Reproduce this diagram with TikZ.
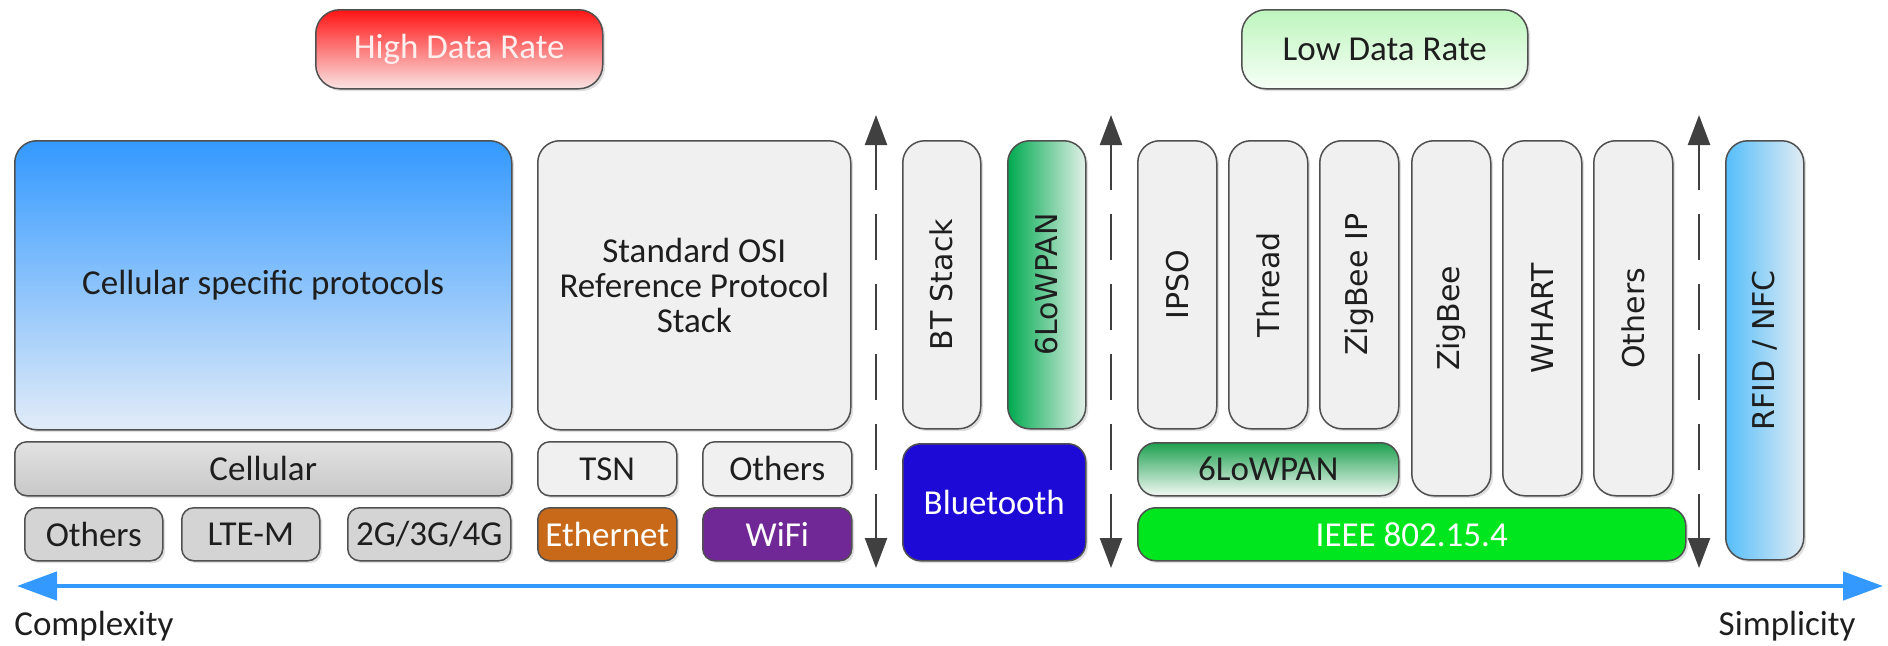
\documentclass[tikz,border=0pt]{standalone}
\usepackage{fontspec}
\setmainfont{Carlito}
\newfontfamily\vfont{DejaVu Sans}
\usetikzlibrary{arrows.meta,shadows}

\definecolor{boxline}{RGB}{80,80,80}
\definecolor{txt}{RGB}{30,30,30}
\definecolor{lgray}{RGB}{240,240,240}
\definecolor{mgray}{RGB}{212,212,212}
\definecolor{hdrtop}{RGB}{255,20,20}
\definecolor{hdrbot}{RGB}{250,228,228}
\definecolor{ldrtop}{RGB}{190,245,190}
\definecolor{ldrbot}{RGB}{246,255,246}
\definecolor{celltop}{RGB}{51,153,255}
\definecolor{cellbot}{RGB}{226,236,248}
\definecolor{ethcol}{RGB}{200,105,25}
\definecolor{wificol}{RGB}{112,40,150}
\definecolor{btcol}{RGB}{30,10,215}
\definecolor{lowdark}{RGB}{0,170,80}
\definecolor{lowlight}{RGB}{226,240,232}
\definecolor{ieeecol}{RGB}{0,230,30}
\definecolor{rfidl}{RGB}{85,190,250}
\definecolor{rfidr}{RGB}{226,236,243}
\definecolor{arrgray}{RGB}{64,64,64}
\definecolor{axisblue}{RGB}{51,153,255}

\begin{document}
\begin{tikzpicture}[x=0.5pt,y=-0.5pt,
  box/.style={draw=boxline, line width=0.75pt, rounded corners=6pt, inner sep=0pt,
    anchor=north west, text=txt, font=\fontsize{17.5}{17.5}\selectfont,
    drop shadow={opacity=0.25, shadow xshift=1.2pt, shadow yshift=-1.2pt}},
  pill/.style={box, rounded corners=11pt, fill=lgray, font=\vfont\fontsize{15}{16}\selectfont},
  sz/.style 2 args={minimum width={(#1)*0.5pt}, minimum height={(#2)*0.5pt}},
  updown/.style={arrgray, line width=1.2pt, dash pattern=on 23pt off 12pt,
    {Triangle[width=11pt,length=15pt]}-{Triangle[width=11pt,length=15pt]}}]
\useasboundingbox (0,0) rectangle (1888,645);

% data rate labels
\node[box, rounded corners=12pt, sz={287}{79}, top color=hdrtop, bottom color=hdrbot,
  text={rgb,255:red,255;green,238;blue,238}] (hdr) at (315,9) {High Data Rate};
\node[box, rounded corners=12pt, sz={286}{79}, top color=ldrtop, bottom color=ldrbot] (ldr) at (1241,9) {Low Data Rate};

% high data rate stacks
\node[box, rounded corners=11pt, sz={497}{289}, top color=celltop, bottom color=cellbot] (cellproto) at (14,140) {Cellular specific protocols};
\node[box, rounded corners=11pt, sz={313}{289}, fill=lgray, align=center] (osi) at (537,140) {Standard OSI\\Reference Protocol\\Stack};
\node[box, sz={497}{54}, top color={rgb,255:red,226;green,226;blue,226}, bottom color={rgb,255:red,200;green,200;blue,200}] (cellular) at (14,441) {Cellular};
\node[box, sz={139}{54}, fill=lgray] (tsn) at (537,441) {TSN};
\node[box, sz={149}{54}, fill=lgray] (othw) at (702,441) {Others};
\foreach \a/\w/\name/\lbl in {24/138/othc/Others, 181/138/ltem/LTE-M, 347/163/gen/{2G/3G/4G}}
  \node[box, sz={\w}{53}, fill=mgray] (\name) at (\a,507) {\lbl};
\node[box, sz={139}{53}, fill=ethcol, text=white] (eth) at (537,507) {Ethernet};
\node[box, sz={149}{53}, fill=wificol, text=white] (wifi) at (702,507) {WiFi};

% low data rate stacks
\node[pill, sz={78}{288}] (btstack) at (902,140) {\rotatebox{90}{BT Stack}};
\node[pill, sz={78}{288}, left color=lowdark, right color=lowlight] (vlow) at (1007,140) {\rotatebox{90}{6LoWPAN}};
\node[box, rounded corners=9pt, sz={183}{117}, fill=btcol, text=white] (bt) at (902,443) {Bluetooth};
\foreach \a/\name/\lbl in {1137/ipso/IPSO, 1228/thread/Thread, 1319/zigip/ZigBee IP}
  \node[pill, sz={79}{288}] (\name) at (\a,140) {\rotatebox{90}{\lbl}};
\foreach \a/\name/\lbl in {1411/zigbee/ZigBee, 1502/whart/WHART, 1593/othl/Others}
  \node[pill, sz={79}{355}] (\name) at (\a,140) {\rotatebox{90}{\lbl}};
\node[box, rounded corners=9pt, sz={261}{53}, top color={rgb,255:red,30;green,160;blue,80}, bottom color={rgb,255:red,242;green,249;blue,244}] (hlow) at (1137,442) {6LoWPAN};
\node[box, rounded corners=9pt, sz={548}{53}, fill=ieeecol, text=white] (ieee) at (1137,507) {IEEE 802.15.4};
\node[pill, sz={78}{419}, left color=rfidl, right color=rfidr] (rfid) at (1725,140) {\rotatebox{90}{RFID / NFC}};

% separators
\foreach \x/\name in {876/sa, 1111/sb, 1699/sc}{
  \coordinate (\name top) at (\x,115);
  \coordinate (\name bot) at (\x,568);
  \draw[updown] (\name top) -- (\name bot);
}

% complexity axis
\coordinate (cplx) at (17,586);
\coordinate (smpl) at (1883,586);
\draw[axisblue, line width=2.3pt, {Triangle[width=14pt,length=20pt]}-{Triangle[width=14pt,length=20pt]}] (cplx) -- (smpl);
\node[anchor=base west, inner sep=0pt, text=txt, font=\fontsize{17.5}{18}\selectfont] (cplxlbl) at (14,635) {Complexity};
\node[anchor=base east, inner sep=0pt, text=txt, font=\fontsize{17.5}{18}\selectfont] (smpllbl) at (1856,635) {Simplicity};
\end{tikzpicture}
\end{document}
